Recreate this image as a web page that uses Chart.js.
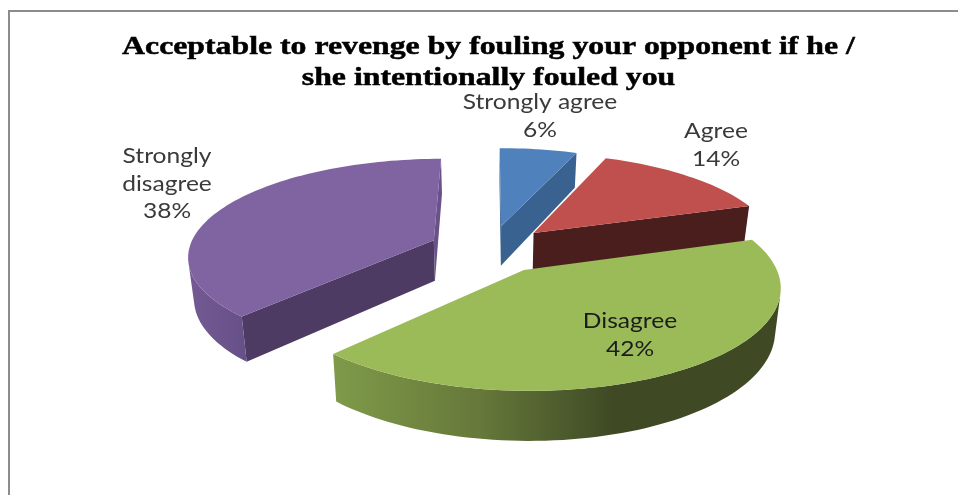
<!DOCTYPE html>
<html>
<head>
<meta charset="utf-8">
<title>Revenge fouling survey</title>
<script src="https://cdn.jsdelivr.net/npm/chart.js@4"></script>
<style>
  html, body { margin: 0; padding: 0; background: #fff; overflow: hidden; }
  #wrap { position: relative; width: 958px; height: 495px; }
  #frame { position: absolute; left: 8px; top: 10px; width: 960px; height: 500px; box-sizing: border-box; border: 2px solid #8c8c8c; border-width: 2px 0 0 2px; pointer-events: none; }
</style>
</head>
<body>
<div id="wrap">
  <canvas id="chart" width="958" height="495"></canvas>
  <div id="frame"></div>
</div>
<script>
  const categories = ['Strongly agree', 'Agree', 'Disagree', 'Strongly disagree'];
  const percentages = [6, 14, 42, 38];
  const titleLines = ['Acceptable to revenge by fouling your opponent if he /', 'she intentionally fouled you'];

  const topColors = ['#4f81bd', '#c0504d', '#9bbb59', '#8064a2'];
  const startCutColors = ['#3a6290', '#4b1e1e', '#3f4a25', '#4d3b63'];
  const endCutColors = ['#3a6290', '#4b1e1e', '#3f4a25', '#6a5288'];
  // outer rim shading as [x pixel, colour] stops
  const rimStops = [
    [[500, '#3a6290'], [580, '#3a6290']],
    [[530, '#4b1e1e'], [750, '#4b1e1e']],
    [[335, '#7f9a49'], [480, '#66783a'], [612, '#3f4a25'], [780, '#3f4a25']],
    [[190, '#735a93'], [246, '#674f87']]
  ];
  // centre x, first baseline, one row of text per line
  const labelPlaces = [
    { x: 540, y: 109, rows: ['Strongly agree'] },
    { x: 716, y: 138, rows: ['Agree'] },
    { x: 630, y: 328, rows: ['Disagree'] },
    { x: 167, y: 163, rows: ['Strongly', 'disagree'] }
  ];

  // perspective of the pie's ground plane, radius 1
  const view = { cx: 490, cy: 249, sx: 245, sy: 96, persp: 0.149, depth: 41, taper: 0.02, explode: 0.25 };

  function project(x, y, z) {
    const w = 1 - view.persp * y;
    return {
      x: view.cx + view.sx * x / (w * (1 + view.taper * z)),
      y: view.cy + (view.sy * y + view.depth * z) / w
    };
  }

  function fillPoly(ctx, pts, style) {
    ctx.beginPath();
    pts.forEach((p, i) => (i ? ctx.lineTo(p.x, p.y) : ctx.moveTo(p.x, p.y)));
    ctx.closePath();
    ctx.fillStyle = style;
    ctx.fill();
  }

  function rimGradient(ctx, stops) {
    const x0 = stops[0][0];
    const x1 = stops[stops.length - 1][0];
    const g = ctx.createLinearGradient(x0, 0, x1, 0);
    stops.forEach(s => g.addColorStop((s[0] - x0) / (x1 - x0), s[1]));
    return g;
  }

  function quadArea(quad) {
    let area = 0;
    quad.forEach((m, n) => {
      const o = quad[(n + 1) % 4];
      area += m.x * o.y - o.x * m.y;
    });
    return area;
  }

  // text pulled wider than the font draws it
  function wideText(ctx, text, x, y, stretch, weight) {
    ctx.save();
    ctx.translate(x, y);
    ctx.scale(stretch, 1);
    ctx.fillText(text, 0, 0);
    if (weight) {
      ctx.lineWidth = weight;
      ctx.strokeStyle = ctx.fillStyle;
      ctx.strokeText(text, 0, 0);
    }
    ctx.restore();
  }

  function drawSlice(ctx, arc, i) {
    const start = arc.startAngle;
    const end = arc.endAngle;
    const mid = (start + end) / 2;
    const ox = view.explode * Math.cos(mid);
    const oy = view.explode * Math.sin(mid);

    const apex = { x: ox, y: oy };
    const edge = [];
    const steps = Math.ceil((end - start) / 0.03);
    for (let s = 0; s <= steps; s++) {
      const a = start + (end - start) * s / steps;
      edge.push({ x: ox + Math.cos(a), y: oy + Math.sin(a) });
    }

    const wall = (p, q) => [project(p.x, p.y, 0), project(q.x, q.y, 0), project(q.x, q.y, 1), project(p.x, p.y, 1)];
    const startCut = wall(apex, edge[0]);
    const endCut = wall(edge[edge.length - 1], apex);
    if (quadArea(startCut) < 0) fillPoly(ctx, startCut, startCutColors[i]);
    if (quadArea(endCut) < 0) fillPoly(ctx, endCut, endCutColors[i]);

    // the visible run of the rim goes in as one shape so the gradient has no seams
    const upper = [];
    const lower = [];
    for (let k = 0; k < edge.length - 1; k++) {
      const quad = wall(edge[k], edge[k + 1]);
      if (quadArea(quad) < 0) {
        if (!upper.length) {
          upper.push(quad[0]);
          lower.push(quad[3]);
        }
        upper.push(quad[1]);
        lower.push(quad[2]);
      }
    }
    if (upper.length) fillPoly(ctx, upper.concat(lower.reverse()), rimGradient(ctx, rimStops[i]));

    fillPoly(ctx, [apex].concat(edge).map(p => project(p.x, p.y, 0)), topColors[i]);
  }

  const pie3d = {
    id: 'pie3d',
    beforeDatasetsDraw(chart) {
      const ctx = chart.ctx;
      const arcs = chart.getDatasetMeta(0).data;

      // far slices first so the near ones overlap them
      const depthOf = a => Math.sin((a.startAngle + a.endAngle) / 2);
      arcs.map((a, i) => i)
        .sort((p, q) => depthOf(arcs[p]) - depthOf(arcs[q]))
        .forEach(i => drawSlice(ctx, arcs[i], i));

      ctx.save();
      ctx.textAlign = 'center';
      ctx.textBaseline = 'alphabetic';

      ctx.font = 'bold 26px "Liberation Serif"';
      ctx.fillStyle = '#000';
      titleLines.forEach((line, r) => wideText(ctx, line, 488.5, 54 + r * 31, 1.222, 0.5));

      ctx.font = '21px Lato';
      labelPlaces.forEach((place, i) => {
        ctx.fillStyle = i === 2 ? '#1c1c1c' : '#3a3a3a';
        place.rows.concat(percentages[i] + '%')
          .forEach((row, r) => wideText(ctx, row, place.x, place.y + r * 27.5, 1.17));
      });
      ctx.restore();
      return false;
    }
  };

  new Chart(document.getElementById('chart'), {
    type: 'pie',
    data: {
      labels: categories,
      datasets: [{ data: percentages, backgroundColor: topColors, borderWidth: 0 }]
    },
    options: {
      responsive: false,
      animation: false,
      plugins: {
        legend: { display: false },
        tooltip: { enabled: false }
      }
    },
    plugins: [pie3d]
  });
</script>
</body>
</html>
